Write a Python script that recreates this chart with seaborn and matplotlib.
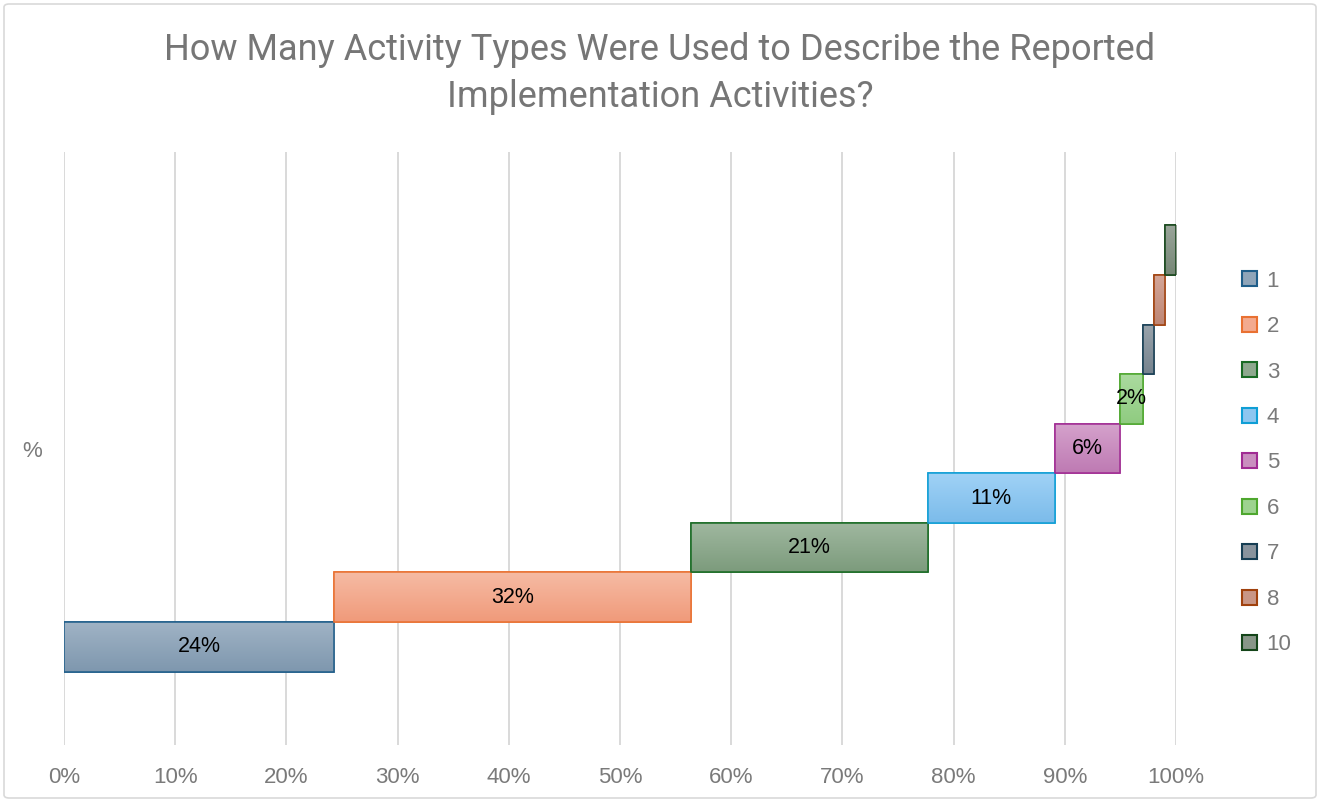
import matplotlib.pyplot as plt
import seaborn as sns
import numpy as np
from matplotlib.patches import Patch, FancyBboxPatch
from matplotlib.colors import LinearSegmentedColormap

# Data
activity_counts = ['1', '2', '3', '4', '5', '6', '7', '8', '10']
shares = [24.3, 32.1, 21.3, 11.4, 5.9, 2.0, 1.0, 1.0, 1.0]
data_labels = ['24%', '32%', '21%', '11%', '6%', '2%', '', '', '']
x_ticks = [0, 10, 20, 30, 40, 50, 60, 70, 80, 90, 100]
category = '%'

# gradient fill (top -> bottom) and outline per series
top_colors = ['#A0B3C5', '#F6BBA4', '#A0B8A0', '#A0D2F6', '#D5A2CC',
              '#ABDB9F', '#9AA4AC', '#D4A698', '#9AA59A']
bottom_colors = ['#7E97AE', '#F09A7A', '#7C9B7C', '#7BBBEA', '#BE7AB3',
                 '#8FCB80', '#76838E', '#BE8674', '#768776']
edge_colors = ['#1F5E8A', '#E97132', '#196B24', '#0F9ED5', '#A02B93',
               '#4EA72E', '#163E54', '#A0410D', '#144519']

sns.set_theme(style="white")
plt.rcParams['font.family'] = ['Liberation Sans', 'DejaVu Sans']

fig = plt.figure(figsize=(13.2, 8.02), dpi=100)
ax = fig.add_axes([64 / 1320, 1 - 745 / 802, (1176 - 64) / 1320, (745 - 152) / 802])

# border around the chart area
fig.patches.append(FancyBboxPatch((4 / 1320, 4 / 802), 1 - 8 / 1320, 1 - 8 / 802,
                                  boxstyle="round,pad=0,rounding_size=0.004",
                                  transform=fig.transFigure, fill=False,
                                  edgecolor='#D9D9D9', linewidth=1.2))

grad = np.linspace(0, 1, 256).reshape(-1, 1)
left = 0
for i, (val, lab) in enumerate(zip(shares, data_labels)):
    cmap = LinearSegmentedColormap.from_list(f'g{i}', [top_colors[i], bottom_colors[i]])
    bars = ax.barh(i, val, left=left, height=1.0, color=cmap(0.5),
                   edgecolor=edge_colors[i], linewidth=1.1, zorder=3)
    img = ax.imshow(grad, cmap=cmap, aspect='auto', origin='upper',
                    extent=[left, left + val, i - 0.5, i + 0.5], zorder=3.5)
    img.set_clip_path(bars.patches[0])
    # outline on top of gradient
    ax.barh(i, val, left=left, height=1.0, fill=False,
            edgecolor=edge_colors[i], linewidth=1.1, zorder=4)
    ax.bar_label(bars, labels=[lab], label_type='center', fontsize=15.5,
                 color='black', zorder=5)
    left += val

ax.set_xlim(0, 100)
ax.set_ylim(-1.98, 9.98)
ax.set_xticks(x_ticks)
ax.set_xticklabels([f"{t}%" for t in x_ticks], fontsize=16, color='#7A7A7A')
ax.set_yticks([4])
ax.set_yticklabels([category], fontsize=16, color='#7A7A7A')
ax.tick_params(axis='x', length=0, pad=16)
ax.tick_params(axis='y', length=0, pad=16)
ax.grid(axis='x', color='#D9D9D9', linewidth=1.4, zorder=0)
ax.grid(axis='y', visible=False)
ax.set_axisbelow(True)
sns.despine(ax=ax, left=True, bottom=True)

title_font = dict(ha='center', va='center', fontsize=26, color='#767676',
                  family=['Roboto', 'DejaVu Sans'])
fig.text(0.5, 1 - 50 / 802, "How Many Activity Types Were Used to Describe the Reported",
         **title_font)
fig.text(0.5, 1 - 97 / 802, "Implementation Activities?", **title_font)

handles = [Patch(facecolor=LinearSegmentedColormap.from_list('h', [t, b])(0.5),
                 edgecolor=e, linewidth=1.5)
           for t, b, e in zip(top_colors, bottom_colors, edge_colors)]
fig.legend(handles, activity_counts, loc='center left',
           bbox_to_anchor=(1222 / 1320, 1 - 463 / 802), frameon=False,
           fontsize=16, labelcolor='#7A7A7A', handlelength=0.66, handleheight=0.66,
           handletextpad=0.45, labelspacing=1.1)

fig.savefig('out.png', dpi=100)
